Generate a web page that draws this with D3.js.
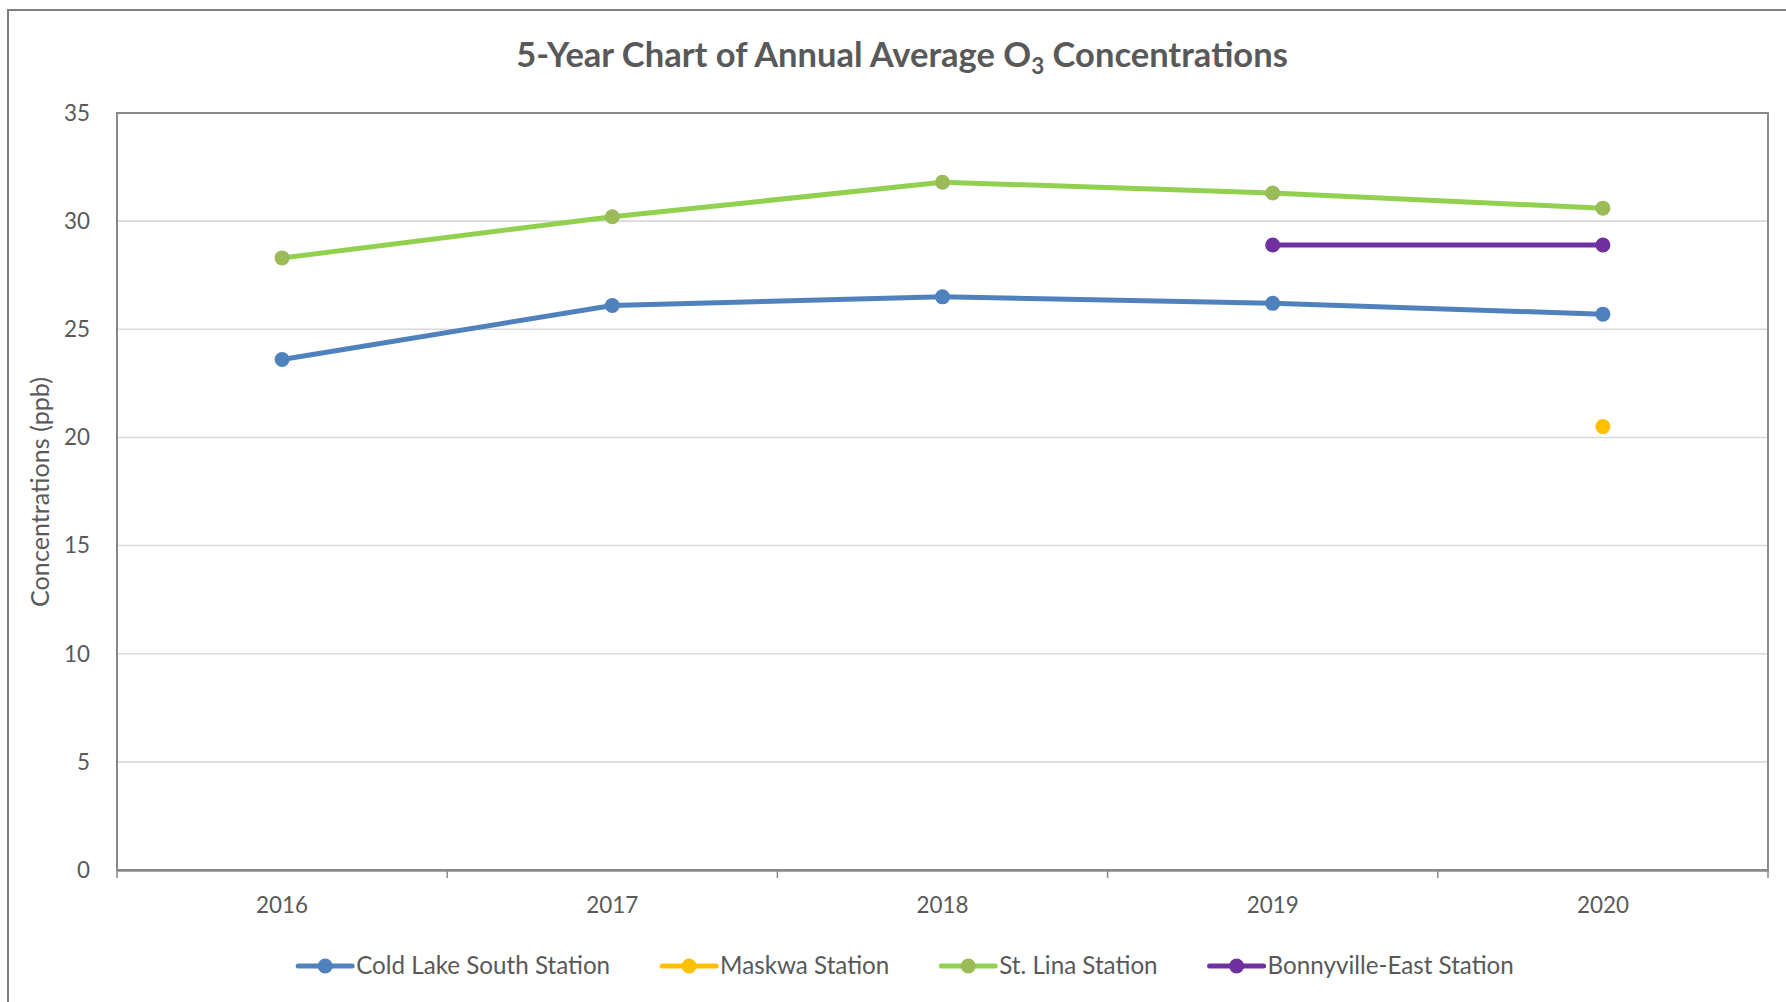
<!DOCTYPE html>
<html>
<head>
<meta charset="utf-8">
<script src="https://cdn.jsdelivr.net/npm/d3@7"></script>
<style>
  html, body { margin: 0; padding: 0; background: #fff; }
  svg { display: block; }
  text { font-family: Lato, "Open Sans", sans-serif; fill: #595959; }
</style>
</head>
<body>
<svg id="chart" width="1786" height="1002"></svg>
<script>
// ---- Data ----
const years = ["2016", "2017", "2018", "2019", "2020"];
const coldLakeSouth = [23.6, 26.1, 26.5, 26.2, 25.7];
const maskwa = [null, null, null, null, 20.5];
const stLina = [28.3, 30.2, 31.8, 31.3, 30.6];
const bonnyvilleEast = [null, null, null, 28.9, 28.9];
const yTicks = [0, 5, 10, 15, 20, 25, 30, 35];
const seriesNames = ["Cold Lake South Station", "Maskwa Station", "St. Lina Station", "Bonnyville-East Station"];
const titleMain = "5-Year Chart of Annual Average O";
const titleSub = "3";
const titleEnd = " Concentrations";
const yAxisTitle = "Concentrations (ppb)";

const series = [
  { name: seriesNames[0], values: coldLakeSouth, line: "#4f81bd", marker: "#4f81bd" },
  { name: seriesNames[1], values: maskwa, line: "#ffc000", marker: "#ffc000" },
  { name: seriesNames[2], values: stLina, line: "#92d050", marker: "#9bbb59" },
  { name: seriesNames[3], values: bonnyvilleEast, line: "#7030a0", marker: "#7030a0" }
];

const W = 1786, H = 1002;
const svg = d3.select("#chart");
const margin = { left: 117, right: 18, top: 113, bottom: 132 };
const plotL = margin.left, plotR = W - margin.right, plotT = margin.top, plotB = H - margin.bottom;

function fit(sel, target) {
  const node = sel.node();
  const fs = parseFloat(sel.attr("font-size"));
  const w = node.getComputedTextLength();
  sel.attr("font-size", (fs * target / w).toFixed(2));
  return fs * target / w;
}

// outer border (extends beyond viewport on right/bottom)
svg.append("rect").attr("x", 8).attr("y", 10).attr("width", W + 20).attr("height", H + 20)
  .attr("fill", "#fff").attr("stroke", "#7f7f7f").attr("stroke-width", 2);

const x = d3.scalePoint().domain(years).range([plotL, plotR]).padding(0.5);
const xBand = d3.scaleBand().domain(years).range([plotL, plotR]);
const y = d3.scaleLinear().domain([0, 35]).range([plotB, plotT]);

// gridlines
svg.append("g").selectAll("line").data(yTicks.filter(t => t > 0 && t < 35)).join("line")
  .attr("x1", plotL).attr("x2", plotR)
  .attr("y1", d => y(d)).attr("y2", d => y(d))
  .attr("stroke", "#d9d9d9").attr("stroke-width", 1.6);

// plot border
svg.append("rect").attr("x", plotL).attr("y", plotT).attr("width", plotR - plotL).attr("height", plotB - plotT)
  .attr("fill", "none").attr("stroke", "#898989").attr("stroke-width", 2);

// x axis
const xAxis = d3.axisBottom(xBand).tickSize(0).tickFormat("");
const gx = svg.append("g").attr("transform", `translate(0,${plotB})`).call(xAxis);
gx.select(".domain").attr("stroke", "#898989").attr("stroke-width", 2.5);
// boundary ticks
const bounds = years.map(d => xBand(d)).concat([xBand(years[years.length - 1]) + xBand.bandwidth()]);
gx.selectAll(".bt").data(bounds).join("line").attr("class", "bt")
  .attr("x1", d => d).attr("x2", d => d).attr("y1", 0).attr("y2", 8)
  .attr("stroke", "#898989").attr("stroke-width", 1.5);

const xl = svg.append("g").selectAll("text").data(years).join("text")
  .attr("x", d => x(d)).attr("y", 913)
  .attr("text-anchor", "middle").attr("font-size", 22).text(d => d);
const xfs = fit(d3.select(xl.nodes()[0]), 52);
xl.attr("font-size", xfs.toFixed(2));

// y axis labels
const yl = svg.append("g").selectAll("text").data(yTicks).join("text")
  .attr("x", 90).attr("y", d => y(d)).attr("dy", "0.35em")
  .attr("text-anchor", "end").attr("font-size", xfs.toFixed(2)).text(d => d);

// y axis title
const yt = svg.append("text").attr("transform", `translate(49,492) rotate(-90)`)
  .attr("text-anchor", "middle").attr("font-size", 22).text(yAxisTitle);
fit(yt, 230);

// title
const tt = svg.append("text").attr("x", 902).attr("y", 67).attr("text-anchor", "middle")
  .attr("font-size", 30).attr("font-weight", "bold");
tt.append("tspan").text(titleMain);
tt.append("tspan").attr("font-size", "0.65em").attr("dy", 7).text(titleSub);
tt.append("tspan").attr("dy", -7).text(titleEnd);
{
  const w = tt.node().getBBox().width;
  tt.attr("font-size", (30 * 772 / w).toFixed(2));
}

// lines
const lineGen = d3.line().defined(d => d.v != null).x(d => x(d.year)).y(d => y(d.v));
series.forEach(s => {
  const pts = years.map((yr, i) => ({ year: yr, v: s.values[i] }));
  svg.append("path").datum(pts).attr("d", lineGen)
    .attr("fill", "none").attr("stroke", s.line).attr("stroke-width", 5)
    .attr("stroke-linejoin", "round").attr("stroke-linecap", "round");
  svg.append("g").selectAll("circle").data(pts.filter(d => d.v != null)).join("circle")
    .attr("cx", d => x(d.year)).attr("cy", d => y(d.v)).attr("r", 7.5)
    .attr("fill", s.marker);
});

// legend
const legY = 966;
const lg = svg.append("g");
const items = series.map(s => {
  const g = lg.append("g");
  g.append("line").attr("x1", 0).attr("x2", 54).attr("y1", 0).attr("y2", 0)
    .attr("stroke", s.line).attr("stroke-width", 5).attr("stroke-linecap", "round");
  g.append("circle").attr("cx", 27).attr("cy", 0).attr("r", 7.5).attr("fill", s.marker);
  const t = g.append("text").attr("x", 58).attr("y", 0).attr("dy", "0.35em")
    .attr("font-size", 22).text(s.name);
  return { g, t };
});
const lfs = fit(items[0].t, 254);
items.forEach(it => it.t.attr("font-size", lfs.toFixed(2)));
const widths = items.map(it => 58 + it.t.node().getComputedTextLength());
const gap = 52;
const total = d3.sum(widths) + gap * (items.length - 1);
let cx = 906 - total / 2;
items.forEach((it, i) => {
  it.g.attr("transform", `translate(${cx},${legY})`);
  cx += widths[i] + gap;
});
</script>
</body>
</html>
